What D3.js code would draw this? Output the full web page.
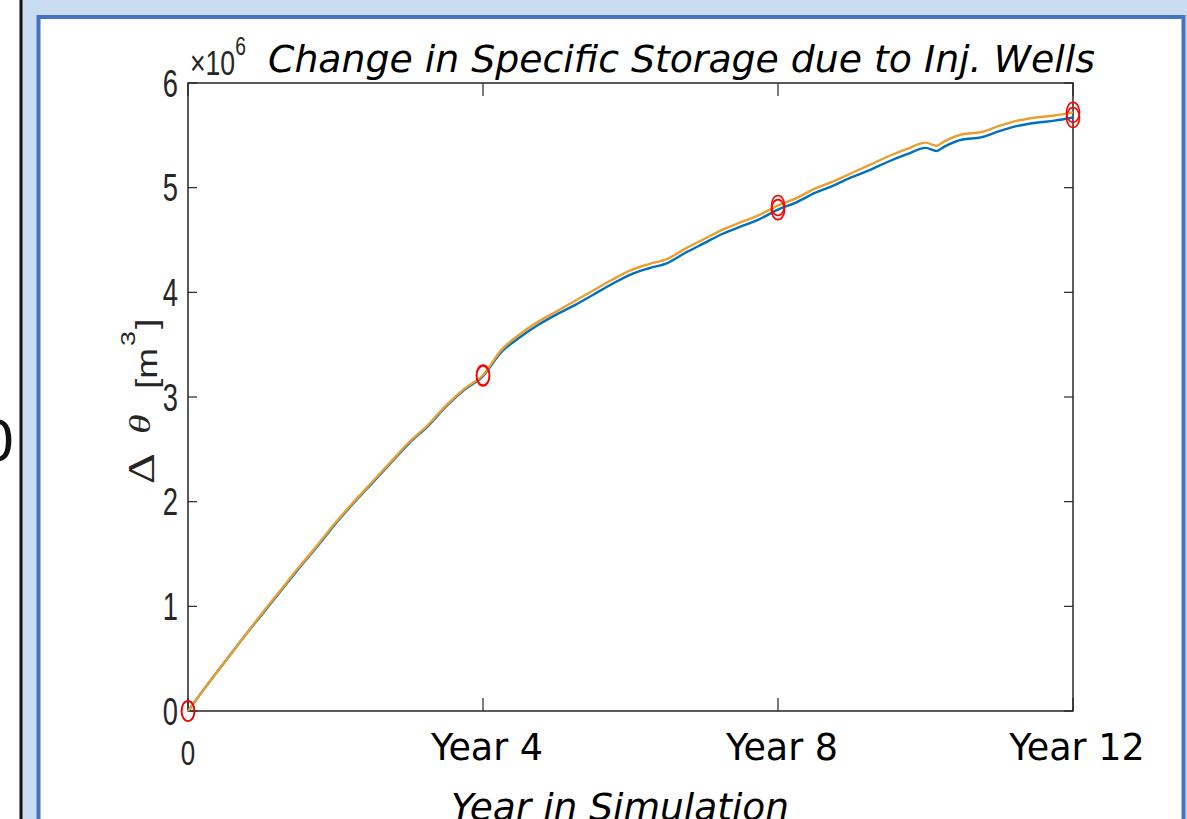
<!DOCTYPE html>
<html>
<head>
<meta charset="utf-8">
<script src="https://cdn.jsdelivr.net/npm/d3@7"></script>
<style>
  body { margin: 0; background: #fff; }
  svg { display: block; }
</style>
</head>
<body>
<div id="chart"></div>
<script>
var W = 1187, H = 819;

// data (values in 10^6 m^3)
var years = [0, 0.25, 0.5, 0.75, 1, 1.25, 1.5, 1.75, 2, 2.25, 2.5, 2.75, 3, 3.25, 3.5, 3.75,
             4, 4.25, 4.5, 4.75, 5, 5.25, 5.5, 5.75, 6, 6.25, 6.5, 6.75, 7, 7.25, 7.5, 7.75,
             8, 8.25, 8.5, 8.75, 9, 9.25, 9.5, 9.75, 10, 10.15, 10.25, 10.5, 10.75, 11, 11.25,
             11.5, 11.75, 12];
var storageBlue = [0, 0.24, 0.47, 0.70, 0.92, 1.14, 1.36, 1.57, 1.79, 1.99, 2.18, 2.37, 2.56, 2.72, 2.91, 3.07,
                   3.20, 3.43, 3.57, 3.69, 3.79, 3.88, 3.98, 4.08, 4.17, 4.23, 4.28, 4.38, 4.47, 4.56, 4.63, 4.70,
                   4.79, 4.86, 4.95, 5.02, 5.10, 5.17, 5.25, 5.32, 5.38, 5.35, 5.39, 5.46, 5.48, 5.54, 5.59,
                   5.62, 5.64, 5.67];
var storageOrange = [0, 0.24, 0.47, 0.70, 0.93, 1.15, 1.37, 1.58, 1.80, 2.00, 2.19, 2.38, 2.57, 2.73, 2.92, 3.08,
                     3.21, 3.45, 3.60, 3.72, 3.82, 3.92, 4.02, 4.12, 4.21, 4.27, 4.32, 4.42, 4.51, 4.60, 4.67, 4.74,
                     4.83, 4.90, 4.99, 5.06, 5.14, 5.22, 5.30, 5.37, 5.43, 5.40, 5.44, 5.51, 5.53, 5.59, 5.64,
                     5.67, 5.69, 5.72];
var markerYears = [0, 4, 8, 12];
var xTicks = [0, 4, 8, 12];
var xTickLabels = ["0", "Year 4", "Year 8", "Year 12"];
var yTicks = [0, 1, 2, 3, 4, 5, 6];

var svg = d3.select("#chart").append("svg")
    .attr("width", W)
    .attr("height", H);

// slide background bits around the figure
svg.append("rect").attr("x", 0).attr("y", 0).attr("width", W).attr("height", H).attr("fill", "#fff");
svg.append("rect").attr("x", 22).attr("y", 0).attr("width", W - 22).attr("height", H).attr("fill", "#c9dcf0");
svg.append("line").attr("x1", 21).attr("x2", 21).attr("y1", 0).attr("y2", H)
    .attr("stroke", "#111").attr("stroke-width", 3);
svg.append("rect").attr("x", 38.5).attr("y", 17).attr("width", 1145).attr("height", H + 20)
    .attr("fill", "#fff").attr("stroke", "#4472c4").attr("stroke-width", 4);
svg.append("text").attr("x", 15).attr("y", 460).attr("text-anchor", "end")
    .style("font-family", "DejaVu Sans").style("font-size", "55px").attr("fill", "#111").text("0");

var x = d3.scaleLinear().domain([0, 12]).range([188, 1073]);
var y = d3.scaleLinear().domain([0, 6]).range([711, 83]);
var axisColor = "#262626";
var narrow = "Liberation Sans, Arial, sans-serif";

var g = svg.append("g");

// box
g.append("rect").attr("x", x(0)).attr("y", y(6)).attr("width", x(12) - x(0)).attr("height", y(0) - y(6))
    .attr("fill", "none").attr("stroke", axisColor).attr("stroke-width", 1.5);

// inward ticks, all four sides
g.selectAll(".ytl").data(yTicks).enter().append("line")
    .attr("x1", x(0)).attr("x2", x(0) + 9)
    .attr("y1", d => y(d)).attr("y2", d => y(d))
    .attr("stroke", axisColor).attr("stroke-width", 1.2);
g.selectAll(".ytr").data(yTicks).enter().append("line")
    .attr("x1", x(12)).attr("x2", x(12) - 9)
    .attr("y1", d => y(d)).attr("y2", d => y(d))
    .attr("stroke", axisColor).attr("stroke-width", 1.2);
g.selectAll(".xtb").data(xTicks).enter().append("line")
    .attr("x1", d => x(d)).attr("x2", d => x(d))
    .attr("y1", y(0)).attr("y2", y(0) - 13)
    .attr("stroke", axisColor).attr("stroke-width", 1.2);
g.selectAll(".xtt").data(xTicks).enter().append("line")
    .attr("x1", d => x(d)).attr("x2", d => x(d))
    .attr("y1", y(6)).attr("y2", y(6) + 13)
    .attr("stroke", axisColor).attr("stroke-width", 1.2);

// y tick labels (narrow matlab font)
g.selectAll(".ylab").data(yTicks).enter().append("text")
    .attr("transform", d => "translate(178," + (y(d) + 13.5) + ") scale(0.72,1)")
    .attr("text-anchor", "end")
    .style("font-family", narrow).style("font-size", "38px")
    .attr("fill", axisColor)
    .text(d => d);

// x tick labels
g.selectAll(".xlab").data(xTicks).enter().append("text")
    .attr("transform", (d, i) => i === 0
        ? "translate(" + x(d) + ",765) scale(0.74,1)"
        : "translate(" + (x(d) + 4) + ",760)")
    .attr("text-anchor", "middle")
    .style("font-family", (d, i) => i === 0 ? narrow : "DejaVu Sans, Verdana, sans-serif")
    .style("font-size", (d, i) => i === 0 ? "35px" : "36.5px")
    .attr("fill", (d, i) => i === 0 ? axisColor : "#000")
    .text((d, i) => xTickLabels[i]);

// exponent
var ex = g.append("text").attr("transform", "translate(190,75) scale(0.74,1)")
    .style("font-family", narrow).style("font-size", "36px")
    .attr("fill", axisColor);
ex.append("tspan").text("\u00d710");
ex.append("tspan").attr("dy", -20).style("font-size", "26px").text("6");

// title
svg.append("text").attr("x", 268).attr("y", 72)
    .style("font-family", "DejaVu Sans, Verdana, sans-serif").style("font-style", "italic")
    .style("font-size", "37.8px").attr("fill", "#000")
    .text("Change in Specific Storage due to Inj. Wells");

// x title
svg.append("text").attr("x", 620).attr("y", 820).attr("text-anchor", "middle")
    .style("font-family", "DejaVu Sans, Verdana, sans-serif").style("font-style", "italic")
    .style("font-size", "37.5px").attr("fill", "#000")
    .text("Year in Simulation");

// y title, pieces laid along the rotated axis
function yPiece(txt, yStart, opts) {
  var t = svg.append("text")
      .attr("transform", "translate(" + opts.base + "," + yStart + ") scale(" + (opts.sq || 0.8) + ",1) rotate(-90)")
      .attr("fill", axisColor)
      .style("font-family", opts.family || narrow)
      .style("font-size", opts.size + "px")
      .text(txt);
  if (opts.italic) t.style("font-style", "italic");
  return t;
}
yPiece("\u0394", 484, { family: "Liberation Serif, serif", size: 48, base: 154 });
yPiece("\u03b8", 434, { family: "Liberation Serif, serif", size: 40, italic: true, base: 150, sq: 0.75 });
yPiece("[m", 389, { size: 37, base: 157 });
yPiece("3", 346, { size: 27, base: 135, sq: 0.72 });
yPiece("]", 329, { size: 37, base: 157 });

// lines
var line = d3.line().x(d => x(d[0])).y(d => y(d[1])).curve(d3.curveMonotoneX);
var series = [
  { vals: storageBlue, color: "#0072bd" },
  { vals: storageOrange, color: "#e9a030" }
];
series.forEach(function (s) {
  g.append("path")
      .datum(years.map((yr, i) => [yr, s.vals[i]]))
      .attr("d", line)
      .attr("fill", "none")
      .attr("stroke", s.color)
      .attr("stroke-width", 2.4);
});

// red markers at yearly checkpoints
series.forEach(function (s) {
  g.selectAll(null).data(markerYears).enter().append("ellipse")
      .attr("cx", d => x(d))
      .attr("cy", d => y(s.vals[years.indexOf(d)]))
      .attr("rx", 6.5).attr("ry", 10)
      .attr("fill", "none").attr("stroke", "#ff0000").attr("stroke-width", 1.6);
});
</script>
</body>
</html>
